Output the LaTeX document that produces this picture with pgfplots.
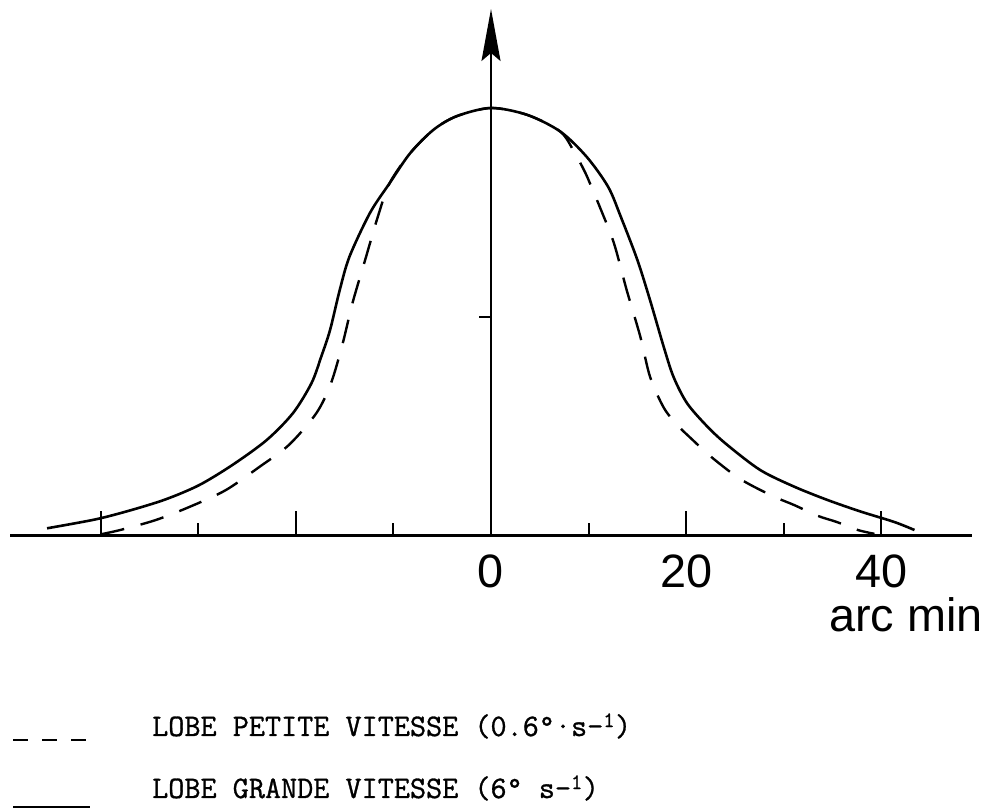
\documentclass[border=0pt]{standalone}
\usepackage{fontspec}
\usepackage{pgfplots}
\pgfplotsset{compat=1.18}
\usetikzlibrary{arrows.meta}
\newfontfamily\sansf{Liberation Sans}
\newfontfamily\monof{Latin Modern Mono}[FakeBold=1]

\begin{document}
\begin{tikzpicture}[x=1bp,y=1bp]
\useasboundingbox (0,0) rectangle (989,811);
\begin{axis}[
  at={(10bp,275bp)}, anchor=south west,
  scale only axis, width=962bp, height=527bp,
  xmin=-49.3, xmax=49.3, ymin=0, ymax=1.2313,
  axis x line*=bottom, axis y line*=middle,
  x axis line style={line width=3bp, -},
  y axis line style={line width=2bp, -{Stealth[length=52bp,width=19bp,inset=8bp]}},
  xtick={-40,-20,0,20,40}, xticklabels={,,0,20,40},
  minor xtick={-30,-10,10,30},
  xtick align=inside,
  major tick length=25bp, minor tick length=13bp,
  tick style={black, line width=2bp},
  ytick=\empty,
  xticklabel style={font=\sansf\fontsize{47}{47}\selectfont, anchor=base, yshift=-52bp, inner sep=0pt},
  hide obscured x ticks=false,
  clip=false,
]
% high-speed beam (6 deg/s)
\addplot[black, line width=2.6bp, smooth, tension=0.5] coordinates {
(-45.5,0.018) (-40.5,0.039) (-36.8,0.061) (-33.3,0.086) (-29.9,0.119)
(-26.5,0.166) (-23.0,0.224) (-20.3,0.287) (-18.4,0.357) (-17.4,0.419)
(-16.5,0.481) (-15.5,0.575) (-14.5,0.653) (-12.4,0.755) (-10.4,0.824)
(-8.3,0.894) (-5.9,0.949) (-3.5,0.981) (0,1.0) (3.7,0.984) (7.1,0.945)
(9.8,0.886) (12.0,0.816) (13.3,0.746) (15.0,0.645) (16.3,0.551)
(17.7,0.442) (18.7,0.372) (20.1,0.310) (22.2,0.255) (24.2,0.213)
(27.6,0.154) (31.1,0.115) (34.5,0.084) (37.9,0.057) (41.3,0.033) (43.4,0.014)
};
% low-speed beam (0.6 deg/s)
\addplot[black, line width=2.4bp, smooth, tension=0.5, dash pattern=on 24bp off 17bp] coordinates {
(-40.0,0.004) (-38.0,0.014) (-34.4,0.037) (-30.9,0.068) (-27.2,0.107)
(-23.7,0.162) (-20.7,0.213) (-17.9,0.287) (-16.4,0.357) (-15.2,0.450)
(-14.2,0.544) (-12.9,0.645) (-11.6,0.746) (-10.4,0.824) (-8.3,0.894)
(-5.9,0.949) (-3.5,0.981) (0,1.0) (3.7,0.984) (7.1,0.945) (8.6,0.894)
(9.7,0.847) (10.5,0.804) (11.2,0.766) (12.6,0.684) (13.9,0.575)
(15.3,0.466) (16.3,0.372) (17.7,0.300) (19.1,0.259) (20.5,0.228)
(22.2,0.192) (23.7,0.164) (25.4,0.135) (27.3,0.111) (29.4,0.088)
(31.1,0.072) (33.5,0.047) (35.4,0.033) (37.6,0.014) (39.3,0.005)
};
% half-power tick on the vertical axis
\draw[line width=2bp] (axis cs:0,0.512) -- ([xshift=-12bp]axis cs:0,0.512);
\end{axis}
\node[anchor=base east, inner sep=0pt, font=\sansf\fontsize{47}{47}\selectfont] at (983,179) {arc min};
% key
\draw[line width=2bp, dash pattern=on 15bp off 14bp] (13,71) -- (90,71);
\node[anchor=base west, inner sep=0pt, font=\monof\fontsize{31.4}{31.4}\selectfont] at (152,75) {LOBE PETITE VITESSE (0.6°·s-\textsuperscript{1})};
\draw[line width=2bp] (13,4) -- (90,4);
\node[anchor=base west, inner sep=0pt, font=\monof\fontsize{31.4}{31.4}\selectfont] at (152,13) {LOBE GRANDE VITESSE (6° s-\textsuperscript{1})};
\end{tikzpicture}
\end{document}
